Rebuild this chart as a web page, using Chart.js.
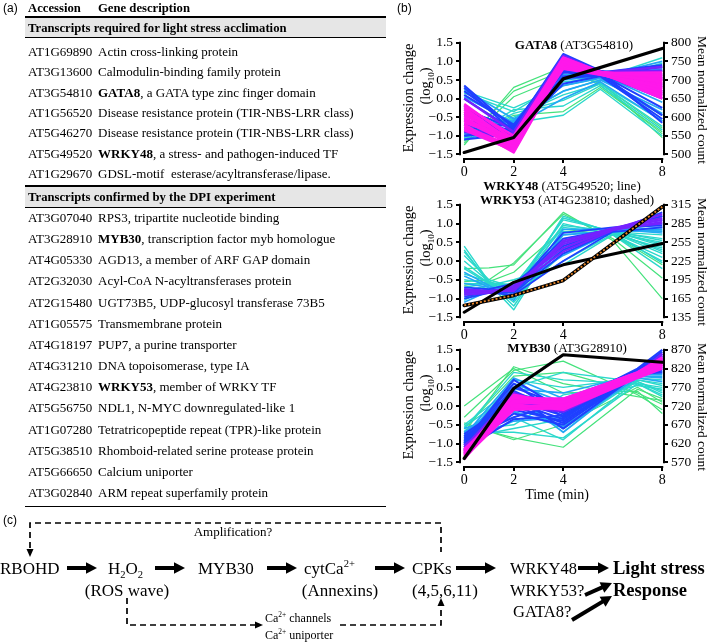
<!DOCTYPE html>
<html>
<head>
<meta charset="utf-8">
<title>Light stress transcripts</title>
<script src="https://cdn.jsdelivr.net/npm/chart.js@4.4.1/dist/chart.umd.min.js"></script>
<style>
  body { margin: 0; background: #fff; }
  #fig { position: relative; width: 709px; height: 642px; overflow: hidden; font-family: "Liberation Serif", "Times New Roman", serif; color: #000; }
  .t { position: absolute; white-space: pre; }
  .panel { font-family: "Liberation Sans", Arial, sans-serif; }
  .rule { position: absolute; left: 25px; width: 361px; background: #000; }
  .band { position: absolute; left: 25px; width: 361px; background: #e6e6e6; }
  canvas { position: absolute; left: 395px; }
  sub, sup { font-size: 0.62em; line-height: 0; }
  svg { position: absolute; left: 0; top: 0; }
</style>
</head>
<body>
<div id="fig">
  <canvas id="gata" width="314" height="154" style="top:28px"></canvas>
  <canvas id="wrky" width="314" height="155" style="top:190px"></canvas>
  <canvas id="myb" width="314" height="155" style="top:335px"></canvas>
  <svg id="diag" width="709" height="642"></svg>
</div>
<script>
// ---- table (a) ----
const sectionTitles = ["Transcripts required for light stress acclimation", "Transcripts confirmed by the DPI experiment"];
const lightStressGenes = [
  ["AT1G69890", "", "Actin cross-linking protein"],
  ["AT3G13600", "", "Calmodulin-binding family protein"],
  ["AT3G54810", "GATA8", ", a GATA type zinc finger domain"],
  ["AT1G56520", "", "Disease resistance protein (TIR-NBS-LRR class)"],
  ["AT5G46270", "", "Disease resistance protein (TIR-NBS-LRR class)"],
  ["AT5G49520", "WRKY48", ", a stress- and pathogen-induced TF"],
  ["AT1G29670", "", "GDSL-motif  esterase/acyltransferase/lipase."]
];
const dpiGenes = [
  ["AT3G07040", "", "RPS3, tripartite nucleotide binding"],
  ["AT3G28910", "MYB30", ", transcription factor myb homologue"],
  ["AT4G05330", "", "AGD13, a member of ARF GAP domain"],
  ["AT2G32030", "", "Acyl-CoA N-acyltransferases protein"],
  ["AT2G15480", "", "UGT73B5, UDP-glucosyl transferase 73B5"],
  ["AT1G05575", "", "Transmembrane protein"],
  ["AT4G18197", "", "PUP7, a purine transporter"],
  ["AT4G31210", "", "DNA topoisomerase, type IA"],
  ["AT4G23810", "WRKY53", ", member of WRKY TF"],
  ["AT5G56750", "", "NDL1, N-MYC downregulated-like 1"],
  ["AT1G07280", "", "Tetratricopeptide repeat (TPR)-like protein"],
  ["AT5G38510", "", "Rhomboid-related serine protease protein"],
  ["AT5G66650", "", "Calcium uniporter"],
  ["AT3G02840", "", "ARM repeat superfamily protein"]
];

// ---- panel (b) data ----
const timeTicks = [0, 2, 4, 8];
const exprTicks = [-1.5, -1.0, -0.5, 0.0, 0.5, 1.0, 1.5];
const countTimes = [0, 2, 4, 8];

// GATA8 panel
const gataTimes = [0, 2, 4, 5.5, 8];
const gataCountTicks = [500, 550, 600, 650, 700, 750, 800];
const gataCount = [505, 545, 703, 785];
const gataGreen = [
  [-1.25, 0.30, 0.85, 0.35, -0.95],
  [-1.15, 0.20, 0.75, 0.40, -0.80],
  [-1.20, 0.05, 0.60, 0.45, -1.05],
  [-1.05, -0.45, -0.35, 0.30, -0.90]
];
const gataCyan = [
  [-1.10, -0.30, -0.20, 0.35, -0.85],
  [-1.00, -0.50, 0.10, 0.40, -0.60],
  [0.20, -0.25, 0.35, 0.55, 1.10],
  [-0.90, -0.55, 0.20, 0.50, 0.95],
  [-1.05, -0.40, -0.05, 0.40, -0.75],
  [0.15, -0.35, 0.45, 0.55, -0.45],
  [-0.95, -0.65, -0.45, 0.25, -1.00]
];
const gataSky = [
  [-0.95, -0.60, 0.35, 0.55, -0.40],
  [-0.80, -0.70, 0.50, 0.60, 0.80],
  [0.25, -0.55, 0.20, 0.50, -0.30],
  [-1.10, -0.75, 0.00, 0.45, -0.60],
  [-0.70, -0.60, 0.65, 0.60, 1.00],
  [0.05, -0.65, 0.80, 0.65, -0.10]
];
const gataBlue = [
  [0.35, -0.80, 1.20, 0.75, 0.55],
  [-0.90, -0.85, 1.10, 0.70, 0.90],
  [-1.00, -0.90, 0.60, 0.65, 0.20],
  [-0.60, -0.75, 0.90, 0.65, -0.25],
  [0.10, -0.70, 1.00, 0.70, 0.75],
  [-1.10, -0.95, 0.40, 0.60, -0.55],
  [-0.30, -0.80, 0.75, 0.65, 0.10],
  [0.30, -0.90, 1.15, 0.72, -0.65],
  [-0.80, -0.85, 1.00, 0.68, 0.35],
  [0.20, -0.75, 1.10, 0.72, 0.65],
  [-0.45, -0.90, 0.70, 0.64, -0.45],
  [-1.00, -0.80, 0.85, 0.66, 0.00],
  [0.00, -0.85, 0.55, 0.62, 0.85]
];
const gataViolet = [
  [-0.70, -0.95, 1.10, 0.70, 0.75],
  [-0.40, -1.00, 1.00, 0.70, 0.40],
  [-0.90, -1.05, 0.90, 0.68, 0.60],
  [0.00, -0.90, 1.15, 0.72, 0.30],
  [-0.20, -1.10, 1.05, 0.70, 0.85],
  [-0.55, -1.00, 0.95, 0.69, 0.15],
  [-0.85, -0.95, 1.00, 0.70, 0.50]
];
const gataMagenta = [
  [-0.25, -1.20, 1.00, 0.70, 0.60],
  [-0.50, -1.30, 0.95, 0.68, 0.45],
  [-0.70, -1.45, 0.90, 0.66, 0.30],
  [-0.45, -1.10, 1.05, 0.70, 0.10],
  [-0.60, -1.25, 0.85, 0.66, 0.50],
  [-0.80, -1.35, 0.95, 0.68, 0.20],
  [-0.20, -1.00, 1.10, 0.72, 0.55],
  [-0.55, -1.15, 0.80, 0.64, 0.35],
  [-0.35, -1.40, 1.00, 0.69, 0.00],
  [-0.65, -1.05, 0.90, 0.67, 0.65],
  [-0.30, -1.25, 1.05, 0.70, 0.40],
  [-0.75, -1.30, 0.85, 0.65, 0.25],
  [-0.40, -1.15, 0.95, 0.69, 0.70],
  [-0.85, -1.40, 0.90, 0.66, 0.15],
  [-0.15, -1.10, 1.00, 0.71, 0.50],
  [-0.60, -1.20, 1.10, 0.72, 0.05]
];

// WRKY48 / WRKY53 panel
const wrkyTimes = [0, 1, 2, 4, 6, 8];
const wrkyCountTicks = [135, 165, 195, 225, 255, 285, 315];
const wrky48Count = [143, 191, 219, 253];
const wrky53Count = [154, 170, 194, 312];
const wrkyGreen = [
  [-0.20, -0.18, -0.10, 1.30, 0.55, -1.00],
  [-0.55, -0.50, -0.05, 1.25, 0.60, -0.45],
  [-0.65, -0.55, -0.30, 0.85, 0.70, -0.10]
];
const wrkyCyan = [
  [0.40, -0.55, -0.90, 1.20, 0.75, 0.30],
  [0.30, -0.60, -1.00, 1.00, 0.70, 0.10],
  [0.00, -0.55, -0.75, 0.90, 0.75, 0.50],
  [-0.20, -0.60, -1.30, 0.80, 0.70, 0.00],
  [-0.50, -0.60, -0.85, 0.50, 0.80, 0.40],
  [-0.90, -0.65, -0.60, 0.30, 0.75, 0.20],
  [-1.00, -0.70, -0.95, 0.60, 0.80, 0.55],
  [-0.70, -0.60, -1.10, 0.40, 0.78, 0.70],
  [0.15, -0.50, -0.70, 1.10, 0.80, 0.25],
  [-0.80, -0.65, -0.50, -0.10, 0.70, -0.20],
  [-1.05, -0.70, -0.85, 0.00, 0.72, 0.35],
  [-0.35, -0.55, -1.20, 0.70, 0.82, 0.80],
  [0.25, -0.55, -0.80, 1.15, 0.78, 0.60],
  [-0.60, -0.62, -1.00, 0.20, 0.76, -0.05],
  [-0.15, -0.58, -0.65, 0.95, 0.80, 0.45]
];
const wrkySky = [
  [-0.40, -0.70, -0.95, 0.70, 0.80, 0.90],
  [-0.90, -0.75, -0.80, 0.50, 0.82, 0.80],
  [-0.60, -0.70, -0.75, 0.30, 0.80, 1.00],
  [-0.30, -0.65, -1.05, 0.85, 0.85, 0.75],
  [-1.10, -0.80, -0.70, 0.15, 0.78, 0.85]
];
const wrkyBlue = [
  [-0.75, -0.80, -0.70, 0.60, 0.85, 1.20],
  [-0.85, -0.80, -0.85, 0.20, 0.80, 1.30],
  [-0.70, -0.75, -0.60, 0.40, 0.88, 1.10],
  [-1.00, -0.85, -0.90, 0.00, 0.78, 0.90],
  [-0.80, -0.78, -0.75, 0.75, 0.90, 0.95],
  [-0.95, -0.82, -0.80, 0.30, 0.84, 1.20]
];
const wrkyViolet = [
  [-0.80, -0.85, -0.75, 0.45, 0.85, 1.25],
  [-0.90, -0.85, -0.65, 0.35, 0.85, 1.10],
  [-0.75, -0.80, -0.80, 0.55, 0.88, 1.15],
  [-0.85, -0.82, -0.70, 0.25, 0.82, 1.05],
  [-0.78, -0.80, -0.72, 0.50, 0.86, 1.00]
];

// MYB30 panel
const mybTimes = [0, 2, 4, 7, 8];
const mybCountTicks = [570, 620, 670, 720, 770, 820, 870];
const mybCount = [580, 767, 857, 837];
const mybGreen = [
  [0.00, 1.00, 0.35, 0.40, -0.20],
  [-0.30, 0.95, 1.20, 0.30, -0.10],
  [-0.50, -0.85, -1.10, 0.45, 0.20],
  [-0.60, 0.80, 0.90, 0.35, 0.05],
  [-0.45, -0.90, -0.50, 0.50, 0.10],
  [-0.70, 1.05, 0.60, 0.25, 0.15]
];
const mybCyan = [
  [-0.60, 0.90, 0.70, 0.60, 0.30],
  [-0.70, -0.70, -0.85, 0.60, 0.50],
  [-0.50, 0.50, 0.90, 0.65, 0.40],
  [-0.80, 0.20, -0.60, 0.70, 0.60],
  [-0.65, -0.50, 0.30, 0.60, 0.25],
  [-0.90, 0.70, 0.50, 0.75, 0.70],
  [-0.75, -0.30, -0.90, 0.70, 0.55],
  [-0.55, 0.35, 0.05, 0.55, 0.45],
  [-0.85, -0.60, -0.35, 0.65, 0.35]
];
const mybSky = [
  [-0.85, 0.60, 0.10, 0.80, 0.80],
  [-0.70, 0.30, -0.70, 0.85, 0.90],
  [-0.95, -0.40, -0.30, 0.80, 0.75],
  [-0.80, 0.75, 0.20, 0.90, 1.00],
  [-0.60, -0.15, -0.55, 0.75, 0.65],
  [-1.00, 0.45, 0.35, 0.85, 0.85]
];
const mybBlue = [
  [-1.00, 0.40, -0.20, 0.90, 1.20],
  [-0.90, 0.10, -0.35, 0.95, 1.40],
  [-1.10, -0.20, -0.50, 0.85, 1.10],
  [-0.95, 0.50, 0.00, 1.00, 1.50],
  [-1.05, -0.10, -0.40, 0.90, 1.30],
  [-0.85, 0.25, -0.15, 0.95, 1.00],
  [-1.15, -0.35, -0.25, 0.80, 0.95],
  [-0.80, 0.00, -0.45, 0.88, 1.25],
  [-0.95, 0.60, -0.30, 0.92, 1.35],
  [-1.05, 0.30, -0.60, 0.85, 1.05],
  [-0.90, -0.30, 0.10, 0.95, 1.45],
  [-1.00, 0.70, -0.10, 0.90, 1.15],
  [-0.75, 0.15, -0.25, 0.87, 0.90]
];
const mybViolet = [
  [-1.15, 0.20, 0.00, 0.85, 1.30],
  [-1.20, 0.00, -0.15, 0.80, 1.20],
  [-1.10, 0.30, 0.10, 0.90, 1.35],
  [-1.25, 0.10, -0.05, 0.82, 1.15],
  [-1.18, 0.35, -0.10, 0.88, 1.25],
  [-1.05, -0.05, 0.05, 0.86, 1.40]
];
const mybMagenta = [
  [-1.20, 0.15, 0.10, 0.85, 1.20],
  [-1.30, 0.00, 0.00, 0.80, 1.10],
  [-1.25, 0.25, 0.15, 0.90, 1.25],
  [-1.35, -0.10, -0.05, 0.78, 1.05],
  [-1.15, 0.10, 0.05, 0.82, 1.15],
  [-1.40, 0.05, -0.10, 0.75, 1.00],
  [-1.28, 0.20, 0.20, 0.88, 1.30],
  [-1.38, -0.05, 0.08, 0.80, 1.10],
  [-1.22, 0.30, 0.05, 0.86, 1.18],
  [-1.32, 0.10, 0.12, 0.84, 1.08],
  [-1.18, -0.05, -0.02, 0.80, 1.22],
  [-1.42, 0.22, 0.00, 0.83, 1.12],
  [-1.26, 0.08, 0.18, 0.90, 1.28]
];

const membershipColors = {
  green: "#44e27c", cyan: "#2ad8cc", sky: "#22a8f4",
  blue: "#1f40ff", violet: "#7522ff", magenta: "#ff18ea"
};

const fig = document.getElementById("fig");

function put(html, x, cy, size, opts = {}) {
  const d = document.createElement("div");
  const lh = Math.round(size * 1.25);
  d.className = "t" + (opts.cls ? " " + opts.cls : "");
  d.innerHTML = html;
  d.style.fontSize = size + "px";
  d.style.lineHeight = lh + "px";
  d.style.left = x + "px";
  d.style.top = (cy - lh / 2) + "px";
  if (opts.bold) d.style.fontWeight = "bold";
  if (opts.center) d.style.transform = "translateX(-50%)";
  if (opts.rotate) {
    d.style.top = cy + "px";
    d.style.transform = `translate(-50%,-50%) rotate(${opts.rotate}deg)`;
  }
  fig.appendChild(d);
  return d;
}

function block(cls, top, height) {
  const d = document.createElement("div");
  d.className = cls;
  d.style.top = top + "px";
  d.style.height = height + "px";
  fig.appendChild(d);
}

const headSize = 12.7;
const rowSize = 13;
const addRow = (gene, cy) => {
  put(gene[0], 28, cy, rowSize);
  put(gene[1] ? `<b>${gene[1]}</b>${gene[2]}` : gene[2], 98, cy, rowSize);
};

put("(a)", 3, 8, 12, { cls: "panel" });
put("Accession", 28, 8, headSize, { bold: true });
put("Gene description", 98, 8, headSize, { bold: true });
block("band", 17, 20);
block("rule", 16.2, 1.6);
block("rule", 36.5, 1);
put(sectionTitles[0], 28, 27.5, headSize, { bold: true });
lightStressGenes.forEach((g, i) => addRow(g, 52 + i * 20.3));
block("band", 186, 21);
block("rule", 185.2, 1.6);
block("rule", 206.5, 1);
put(sectionTitles[1], 28, 197, headSize, { bold: true });
dpiGenes.forEach((g, i) => addRow(g, 218 + i * 21.15));
block("rule", 505.5, 1.2);

// ---- charts (b) ----
const serif = "'Liberation Serif', 'Times New Roman', serif";
Chart.defaults.font.family = serif;
Chart.defaults.color = "#000";

// draw the axis lines only from first to last tick, like the original
const spines = {
  id: "spines",
  afterDraw(chart) {
    const { ctx, scales } = chart;
    const { x, y, y2 } = scales;
    const end = (s, i) => s.getPixelForValue(s.ticks[i < 0 ? s.ticks.length - 1 : i].value);
    ctx.save();
    ctx.strokeStyle = "#000";
    ctx.lineWidth = 2;
    ctx.beginPath();
    ctx.moveTo(end(x, 0) - 1, x.top + 1); ctx.lineTo(end(x, -1) + 1, x.top + 1);
    ctx.moveTo(y.right - 1, end(y, 0) + 1); ctx.lineTo(y.right - 1, end(y, -1) - 1);
    ctx.moveTo(y2.left + 1, end(y2, 0) + 1); ctx.lineTo(y2.left + 1, end(y2, -1) - 1);
    ctx.stroke();
    ctx.restore();
  }
};

const tickGrid = { drawOnChartArea: false, drawTicks: true, tickLength: 5, color: "#000", lineWidth: 2 };
const fmtExpr = (v) => v.toFixed(1).replace("-", "\u2212");

function buildPanel(id, times, groups, countTicks, countMin, countMax, countLines) {
  const datasets = [];
  countLines.forEach((c) => {
    datasets.push({
      data: countTimes.map((t, j) => ({ x: t, y: c.values[j] })),
      yAxisID: "y2",
      borderColor: c.color,
      borderWidth: c.width,
      borderDash: c.dash || [],
      borderCapStyle: c.dash ? "butt" : "round",
      pointRadius: 0,
      order: c.order
    });
  });
  groups.forEach((g, gi) => {
    g.lines.forEach((vals) => {
      datasets.push({
        data: vals.map((v, j) => ({ x: times[j], y: v })),
        yAxisID: "y",
        borderColor: g.color,
        borderWidth: g.width,
        pointRadius: 0,
        order: 20 - gi
      });
    });
  });

  new Chart(document.getElementById(id), {
    type: "line",
    data: { datasets },
    options: {
      responsive: false,
      animation: false,
      devicePixelRatio: 1,
      layout: { padding: { top: 13, left: 0, right: 0, bottom: 0 } },
      plugins: { legend: { display: false }, tooltip: { enabled: false } },
      elements: { line: { tension: 0, fill: false, borderJoinStyle: "round" } },
      scales: {
        x: {
          type: "linear", min: -0.13, max: 8.03,
          afterBuildTicks: (s) => { s.ticks = timeTicks.map((v) => ({ value: v })); },
          afterFit: (s) => { s.height = 24; },
          ticks: { font: { size: 14 }, padding: 1, maxRotation: 0, autoSkip: false, callback: (v) => String(v) },
          grid: tickGrid,
          border: { display: false }
        },
        y: {
          position: "left", min: -1.6, max: 1.55,
          afterBuildTicks: (s) => { s.ticks = exprTicks.map((v) => ({ value: v })); },
          afterFit: (s) => { s.width = 66; },
          ticks: { font: { size: 13.5 }, padding: 3, callback: (v) => fmtExpr(v) },
          grid: tickGrid,
          border: { display: false }
        },
        y2: {
          position: "right", min: countMin, max: countMax,
          afterBuildTicks: (s) => { s.ticks = countTicks.map((v) => ({ value: v })); },
          afterFit: (s) => { s.width = 46; },
          ticks: { font: { size: 13.5 }, padding: 3, callback: (v) => String(v) },
          grid: tickGrid,
          border: { display: false }
        }
      }
    },
    plugins: [spines]
  });
}

const C = membershipColors;
buildPanel("gata", gataTimes, [
  { lines: gataGreen, color: C.green, width: 1.2 },
  { lines: gataCyan, color: C.cyan, width: 1.4 },
  { lines: gataSky, color: C.sky, width: 1.7 },
  { lines: gataBlue, color: C.blue, width: 2.1 },
  { lines: gataViolet, color: C.violet, width: 2.3 },
  { lines: gataMagenta, color: C.magenta, width: 2.5 }
], gataCountTicks, 490, 805, [
  { values: gataCount, color: "#000", width: 3.2, order: 0 }
]);

buildPanel("wrky", wrkyTimes, [
  { lines: wrkyGreen, color: C.green, width: 1.2 },
  { lines: wrkyCyan, color: C.cyan, width: 1.4 },
  { lines: wrkySky, color: C.sky, width: 1.6 },
  { lines: wrkyBlue, color: C.blue, width: 1.8 },
  { lines: wrkyViolet, color: C.violet, width: 2.0 }
], wrkyCountTicks, 129, 318, [
  { values: wrky53Count, color: "#e8862a", width: 1.8, dash: [2, 2], order: 0 },
  { values: wrky53Count, color: "#000", width: 3.6, order: 1 },
  { values: wrky48Count, color: "#000", width: 3.0, order: 2 }
]);

buildPanel("myb", mybTimes, [
  { lines: mybGreen, color: C.green, width: 1.2 },
  { lines: mybCyan, color: C.cyan, width: 1.4 },
  { lines: mybSky, color: C.sky, width: 1.7 },
  { lines: mybBlue, color: C.blue, width: 2.1 },
  { lines: mybViolet, color: C.violet, width: 2.3 },
  { lines: mybMagenta, color: C.magenta, width: 2.5 }
], mybCountTicks, 560, 875, [
  { values: mybCount, color: "#000", width: 3.2, order: 0 }
]);

put("(b)", 397, 8, 12, { cls: "panel" });
put("<b>GATA8</b> (AT3G54810)", 574, 45, 13, { center: true });
put("<b>WRKY48</b> (AT5G49520; line)", 562, 186, 13, { center: true });
put("<b>WRKY53</b> (AT4G23810; dashed)", 567, 200, 13, { center: true });
put("<b>MYB30</b> (AT3G28910)", 567, 348, 13, { center: true });
put("Time (min)", 557, 495, 14, { center: true });
[98, 260, 405].forEach((cy) => {
  put("Expression change", 408, cy, 14.5, { rotate: -90 });
  put("(log<sub>10</sub>)", 425, cy - 12, 14.5, { rotate: -90 });
  put("Mean normalized count", 702, cy + 2, 13.5, { rotate: 90 });
});

// ---- scheme (c) ----
const svg = document.getElementById("diag");
const NS = "http://www.w3.org/2000/svg";
function el(name, attrs) {
  const e = document.createElementNS(NS, name);
  for (const k in attrs) e.setAttribute(k, attrs[k]);
  svg.appendChild(e);
  return e;
}
function head(tx, ty, ux, uy, len, half) {
  const bx = tx - ux * len, by = ty - uy * len;
  el("polygon", { points: `${tx},${ty} ${bx - uy * half},${by + ux * half} ${bx + uy * half},${by - ux * half}`, fill: "#000" });
}
function arrow(x1, y1, x2, y2) {
  const len = Math.hypot(x2 - x1, y2 - y1), ux = (x2 - x1) / len, uy = (y2 - y1) / len;
  el("line", { x1, y1, x2: x2 - ux * 9, y2: y2 - uy * 9, stroke: "#000", "stroke-width": 4 });
  head(x2, y2, ux, uy, 11, 5.8);
}
function dashed(pts) {
  el("polyline", { points: pts.map((p) => p.join(",")).join(" "), fill: "none", stroke: "#000", "stroke-width": 1.7, "stroke-dasharray": "6 4" });
}

[[67, 97], [155, 185], [267, 297], [375, 405], [456, 496], [578, 609]].forEach(([a, b]) => arrow(a, 568, b, 568));
arrow(585, 595, 612, 583);
arrow(572, 620, 612, 596);

dashed([[30, 548], [30, 523], [441, 523], [441, 552]]);
head(30, 557, 0, 1, 8, 3.5);
dashed([[127, 598], [127, 625], [255, 625]]);
head(263, 625, 1, 0, 8, 3.5);
dashed([[340, 625], [441, 625], [441, 606]]);
head(441, 598, 0, -1, 8, 3.5);

put("(c)", 3, 520, 12, { cls: "panel" });
put("Amplification?", 233, 532, 13, { center: true });
put("RBOHD", 0, 568, 17);
put("H<sub>2</sub>O<sub>2</sub>", 108, 568, 17);
put("MYB30", 198, 568, 17);
put("cytCa<sup>2+</sup>", 304, 568, 17);
put("CPKs", 412, 568, 17);
put("WRKY48", 510, 568, 16.5);
put("Light stress", 613, 568, 18.5, { bold: true });
put("(ROS wave)", 127, 590, 17, { center: true });
put("(Annexins)", 340, 590, 17, { center: true });
put("(4,5,6,11)", 412, 590, 17);
put("WRKY53?", 510, 590, 16.5);
put("Response", 613, 590, 18.5, { bold: true });
put("GATA8?", 513, 611, 16.5);
put("Ca<sup>2+</sup> channels", 265, 618, 12);
put("Ca<sup>2+</sup> uniporter", 265, 635, 12);
</script>
</body>
</html>
